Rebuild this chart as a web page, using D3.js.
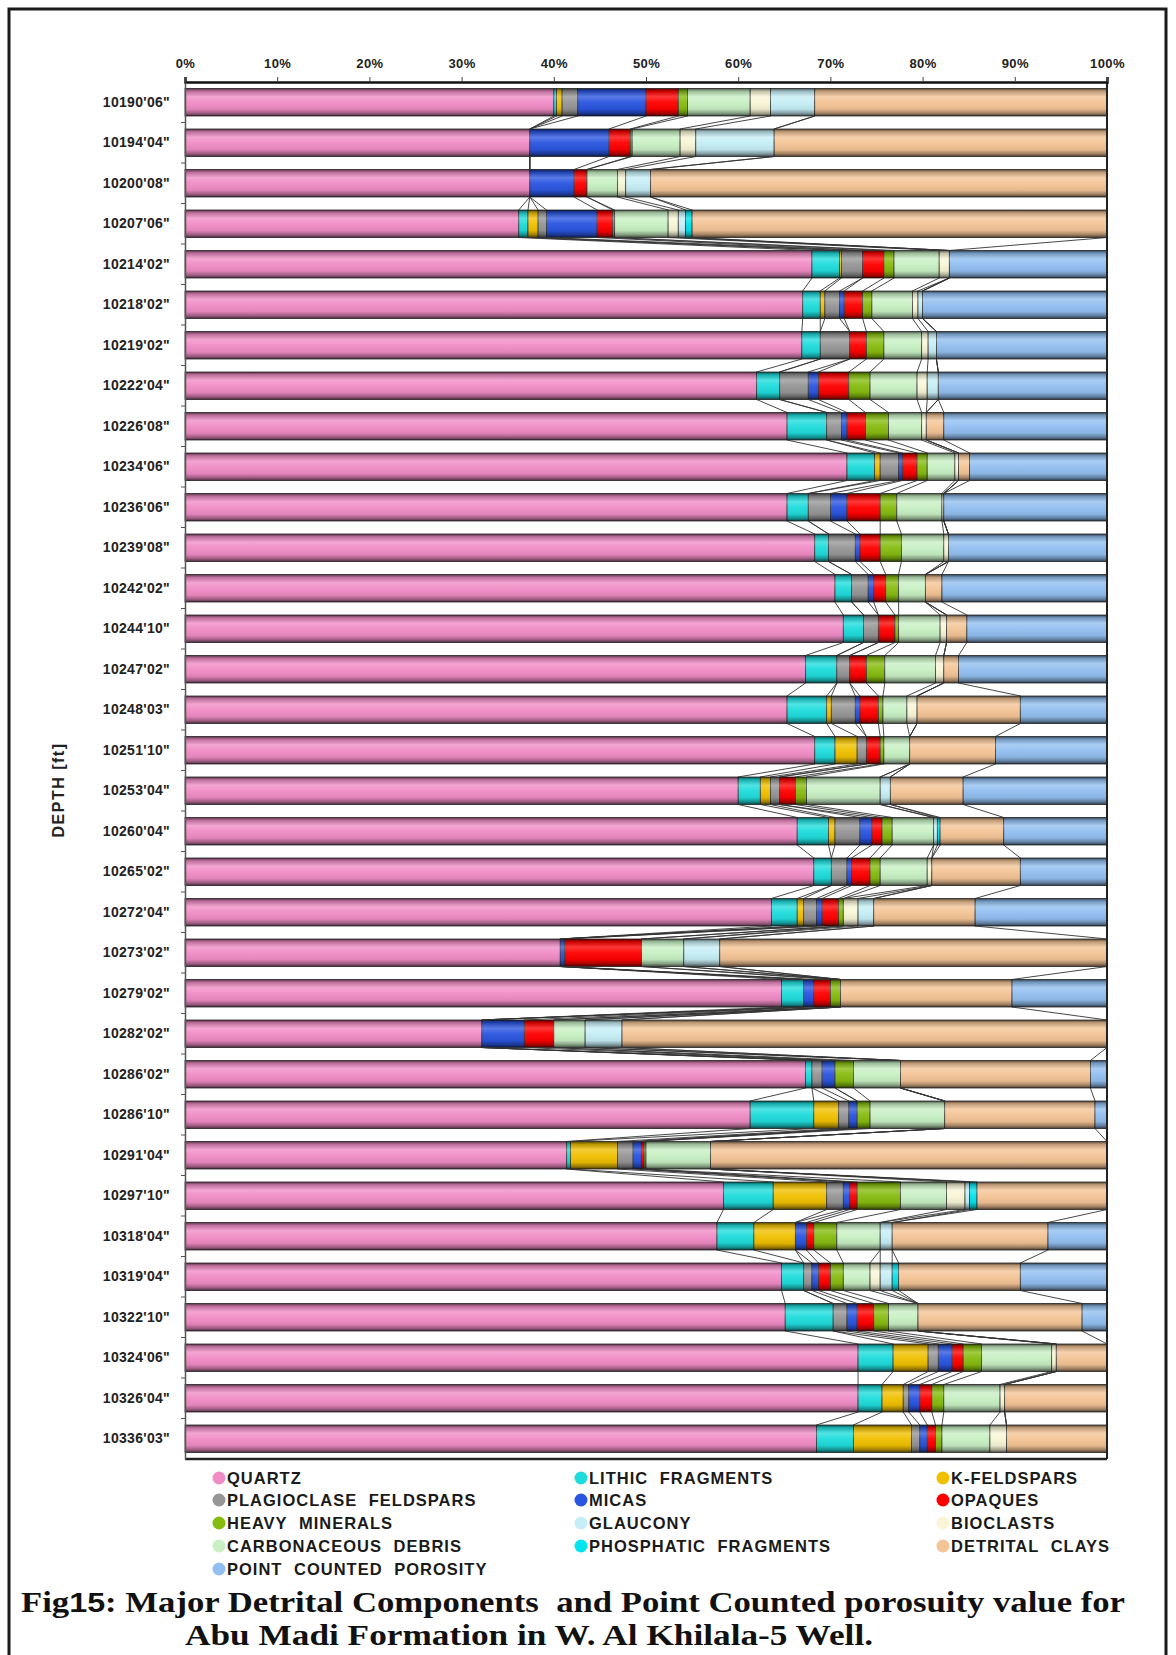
<!DOCTYPE html>
<html>
<head>
<meta charset="utf-8">
<script src="https://cdn.jsdelivr.net/npm/d3@7"></script>
<style>
  body { margin: 0; background: #fff; }
  svg { display: block; }
</style>
</head>
<body>
<div id="chart"></div>
<script>
// depth of each thin section, top to bottom
const depths = ["10190'06\"", "10194'04\"", "10200'08\"", "10207'06\"", "10214'02\"", "10218'02\"",
  "10219'02\"", "10222'04\"", "10226'08\"", "10234'06\"", "10236'06\"", "10239'08\"", "10242'02\"",
  "10244'10\"", "10247'02\"", "10248'03\"", "10251'10\"", "10253'04\"", "10260'04\"", "10265'02\"",
  "10272'04\"", "10273'02\"", "10279'02\"", "10282'02\"", "10286'02\"", "10286'10\"", "10291'04\"",
  "10297'10\"", "10318'04\"", "10319'04\"", "10322'10\"", "10324'06\"", "10326'04\"", "10336'03\""];

// percentages per component (same order as depths)
const quartz      = [40, 37.4, 37.4, 36.2, 68, 67, 66.9, 62, 65.3, 71.8, 65.3, 68.3, 70.5, 71.4, 67.3, 65.3, 68.3, 60, 66.4, 68.2, 63.6, 40.7, 64.7, 32.2, 67.3, 61.3, 41.4, 58.4, 57.7, 64.7, 65.1, 73, 73, 68.5];
const lithic      = [0.3, 0, 0, 1.0, 3, 1.9, 2, 2.5, 4.3, 3, 2.3, 1.5, 1.8, 2.2, 3.4, 4.3, 2.2, 2.4, 3.4, 1.9, 2.8, 0, 2.4, 0, 0.7, 6.9, 0.4, 5.4, 4, 2.4, 5.2, 3.8, 2.6, 4];
const kfeldspar   = [0.6, 0, 0, 1.1, 0.2, 0.5, 0, 0, 0, 0.6, 0, 0, 0, 0, 0, 0.5, 2.4, 1.1, 0.7, 0, 0.7, 0, 0, 0, 0, 2.7, 5.1, 5.8, 4.5, 0, 0, 3.8, 2.3, 6.3];
const plagioclase = [1.7, 0, 0, 0.9, 2.3, 1.6, 3.2, 3.1, 1.6, 2, 2.4, 2.9, 1.8, 1.6, 1.4, 2.6, 1, 1, 2.7, 1.7, 1.4, 0, 0, 0, 1.1, 1.1, 1.7, 1.8, 0, 0.9, 1.5, 1.1, 0.6, 0.9];
const micas       = [7.4, 8.6, 4.8, 5.5, 0, 0.5, 0, 1.1, 0.6, 0.4, 1.8, 0.5, 0.6, 0, 0, 0.5, 0, 0, 1.3, 0.5, 0.6, 0.5, 1.1, 4.6, 1.4, 0.9, 0.9, 0.7, 1.2, 0.7, 1.1, 1.5, 1.2, 0.8];
const opaques     = [3.5, 2.3, 1.4, 1.7, 2.3, 2, 1.8, 3.3, 2, 1.6, 3.6, 2.2, 1.3, 1.8, 1.8, 2, 1.5, 1.7, 1.1, 2, 1.8, 8.3, 1.8, 3.2, 0, 0, 0.3, 0.8, 0.8, 1.3, 1.8, 1.2, 1.3, 0.9];
const heavy       = [1.0, 0.2, 0, 0.2, 1.1, 1, 1.9, 2.3, 2.5, 1.1, 1.8, 2.3, 1.4, 0.4, 2, 0.5, 0.4, 1.2, 1.1, 1.1, 0.5, 0, 1.1, 0, 2, 1.4, 0.2, 4.7, 2.5, 1.4, 1.6, 2, 1.3, 0.7];
const carbonaceous= [6.8, 5.2, 3.3, 5.8, 4.9, 4.4, 4.1, 5.1, 3.6, 3, 4.9, 4.6, 2.9, 4.5, 5.5, 2.6, 2.8, 8, 4.5, 5.1, 0, 4.6, 0, 3.4, 5.1, 8.1, 7.0, 5, 4.7, 2.9, 3.2, 7.6, 6.1, 5.2];
const bioclasts   = [2.2, 1.7, 0.9, 1.1, 1.1, 0.6, 0.7, 1.1, 0.5, 0.4, 0.2, 0.5, 0, 0.7, 0.9, 1.1, 0, 0, 0, 0.5, 1.6, 0, 0, 0, 0, 0, 0, 2, 0, 1.1, 0, 0.5, 0.5, 1.8];
const glaucony    = [4.8, 8.5, 2.7, 0.8, 0, 0.5, 0.9, 1.2, 0, 0, 0, 0, 0, 0, 0, 0, 0, 1.1, 0.4, 0, 1.7, 3.9, 0, 4, 0, 0, 0, 0.5, 1.3, 1.3, 0, 0, 0, 0];
const phosphatic  = [0, 0, 0, 0.7, 0, 0, 0, 0, 0, 0, 0, 0, 0, 0, 0, 0, 0, 0, 0.3, 0, 0, 0, 0, 0, 0, 0, 0, 0.8, 0, 0.7, 0, 0, 0, 0];
const clays       = [31.7, 36.1, 49.5, 45, 0, 0, 0, 0, 1.9, 1.2, 0, 0, 1.8, 2.2, 1.6, 11.2, 9.3, 7.9, 6.9, 9.6, 11, 42, 18.6, 52.6, 20.6, 16.3, 43, 14.1, 16.9, 13.2, 17.8, 5.5, 11.1, 10.9];
const porosity    = [0, 0, 0, 0, 17.1, 20, 18.5, 18.3, 17.7, 14.9, 17.7, 17.2, 17.9, 15.2, 16.1, 9.4, 12.1, 15.6, 11.2, 9.4, 14.3, 0, 10.3, 0, 1.8, 1.3, 0, 0, 6.4, 9.4, 2.7, 0, 0, 0];

// stacking order of the bars
const seriesNames = ['QUARTZ', 'LITHIC FRAGMENTS', 'K-FELDSPARS', 'PLAGIOCLASE FELDSPARS', 'MICAS', 'OPAQUES',
  'HEAVY MINERALS', 'CARBONACEOUS DEBRIS', 'BIOCLASTS', 'GLAUCONY', 'PHOSPHATIC FRAGMENTS', 'DETRITAL CLAYS',
  'POINT COUNTED POROSITY'];
const seriesValues = [quartz, lithic, kfeldspar, plagioclase, micas, opaques, heavy, carbonaceous, bioclasts,
  glaucony, phosphatic, clays, porosity];
const seriesColors = ['#f08cc6', '#1fdcdc', '#f0c000', '#969696', '#2a55e0', '#ff0000', '#86bc10', '#c8f0c4',
  '#f8f6d6', '#c6eef6', '#00e4ee', '#f4c496', '#92bff0'];

// legend as laid out in the figure (3 columns, row by row)
const legendOrder = ['QUARTZ', 'LITHIC FRAGMENTS', 'K-FELDSPARS', 'PLAGIOCLASE FELDSPARS', 'MICAS', 'OPAQUES',
  'HEAVY MINERALS', 'GLAUCONY', 'BIOCLASTS', 'CARBONACEOUS DEBRIS', 'PHOSPHATIC FRAGMENTS', 'DETRITAL CLAYS',
  'POINT COUNTED POROSITY'];
const tickValues = [0, 10, 20, 30, 40, 50, 60, 70, 80, 90, 100];

const W = 1176, H = 1655;
const sans = 'Liberation Sans, Arial, sans-serif';
const svg = d3.select('#chart').append('svg').attr('width', W).attr('height', H);

// frame
svg.append('rect').attr('x', 9).attr('y', 9).attr('width', 1157).attr('height', 1700)
  .attr('fill', 'none').attr('stroke', '#1a1a1a').attr('stroke-width', 3);

const x = d3.scaleLinear().domain([0, 100]).range([185, 1107]);
const y = d3.scaleBand().domain(depths).range([82, 1459]).paddingInner(0.32).paddingOuter(0.16);
const bh = y.bandwidth();
const color = d3.scaleOrdinal().domain(seriesNames).range(seriesColors);

const table = depths.map((d, i) => {
  const row = {depth: d};
  seriesNames.forEach((k, j) => row[k] = seriesValues[j][i]);
  return row;
});
const stacked = d3.stack().keys(seriesNames)(table);

// cylinder shading
const defs = svg.append('defs');
const grad = defs.append('linearGradient').attr('id', 'shade')
  .attr('x1', 0).attr('y1', 0).attr('x2', 0).attr('y2', 1);
[[0, '#000', 0.65], [0.1, '#000', 0.22], [0.3, '#fff', 0.22], [0.5, '#fff', 0.05],
 [0.75, '#000', 0.06], [0.9, '#000', 0.35], [1, '#000', 0.7]].forEach(s => {
  grad.append('stop').attr('offset', s[0]).attr('stop-color', s[1]).attr('stop-opacity', s[2]);
});

// bars
const layers = svg.append('g').selectAll('g').data(stacked).join('g')
  .attr('fill', d => color(d.key));
layers.selectAll('rect').data(d => d).join('rect')
  .attr('x', d => x(d[0]))
  .attr('y', d => y(d.data.depth))
  .attr('width', d => Math.max(0, x(d[1]) - x(d[0])))
  .attr('height', bh)
  .attr('stroke', '#3a3a3a').attr('stroke-width', 0.8);

svg.append('g').selectAll('rect').data(depths).join('rect')
  .attr('x', x(0)).attr('y', d => y(d))
  .attr('width', x(100) - x(0)).attr('height', bh)
  .attr('fill', 'url(#shade)');

// series lines between neighbouring bars
const links = [];
stacked.forEach(s => {
  for (let i = 0; i < s.length - 1; i++) {
    links.push({x1: x(s[i][1]), y1: y(depths[i]) + bh, x2: x(s[i + 1][1]), y2: y(depths[i + 1])});
  }
});
svg.append('g').selectAll('line').data(links).join('line')
  .attr('x1', d => d.x1).attr('y1', d => d.y1).attr('x2', d => d.x2).attr('y2', d => d.y2)
  .attr('stroke', '#333').attr('stroke-width', 0.9);

// plot border (right + bottom)
svg.append('line').attr('x1', x(100)).attr('x2', x(100)).attr('y1', 82).attr('y2', 1459)
  .attr('stroke', '#222').attr('stroke-width', 2);
svg.append('line').attr('x1', x(0)).attr('x2', x(100)).attr('y1', 1459).attr('y2', 1459)
  .attr('stroke', '#222').attr('stroke-width', 2.5);

// top axis
const xAxis = svg.append('g').attr('transform', 'translate(0,82)')
  .call(d3.axisTop(x).tickValues(tickValues).tickFormat(d => d + '%').tickSize(5).tickPadding(9));
xAxis.select('.domain').attr('stroke', '#111').attr('stroke-width', 2.5);
xAxis.selectAll('.tick line').attr('stroke', '#444');
xAxis.selectAll('text').attr('font-family', sans).attr('font-size', 13).attr('font-weight', 'bold')
  .attr('letter-spacing', 0.4).attr('fill', '#222');

// left axis
const yAxis = svg.append('g').attr('transform', `translate(${x(0)},0)`)
  .call(d3.axisLeft(y).tickSize(0).tickPadding(15));
yAxis.select('.domain').attr('stroke', '#555').attr('stroke-width', 1.5);
yAxis.selectAll('text').attr('font-family', sans).attr('font-size', 14).attr('font-weight', 'bold')
  .attr('letter-spacing', 0.3).attr('fill', '#222');
const gap = y.step() * y.paddingInner() / 2;
svg.append('g').selectAll('line').data(depths.slice(1)).join('line')
  .attr('x1', x(0) - 4).attr('x2', x(0))
  .attr('y1', d => y(d) - gap).attr('y2', d => y(d) - gap)
  .attr('stroke', '#555').attr('stroke-width', 1);

svg.append('text').attr('transform', 'translate(64,790) rotate(-90)')
  .attr('text-anchor', 'middle').attr('font-family', sans).attr('font-size', 16)
  .attr('font-weight', 'bold').attr('letter-spacing', 1.5).attr('fill', '#222')
  .text('DEPTH [ft]');

// legend
const colX = [219, 581, 943];
const rowY = [1478, 1500, 1523, 1546, 1569];
const legend = svg.append('g').selectAll('g').data(legendOrder).join('g')
  .attr('transform', (d, i) => `translate(${colX[i % 3]},${rowY[Math.floor(i / 3)]})`);
legend.append('circle').attr('r', 6.5).attr('fill', d => color(d));
legend.append('text').attr('x', 8).attr('dy', '0.36em')
  .attr('font-family', sans).attr('font-size', 16.5).attr('font-weight', 'bold')
  .attr('letter-spacing', 1.0).attr('word-spacing', 6).attr('fill', '#1a1a1a')
  .text(d => d);

// caption
const serif = 'Liberation Serif, Times New Roman, serif';
const cap1 = svg.append('text').attr('x', 21).attr('y', 1612)
  .attr('font-family', serif).attr('font-size', 29).attr('font-weight', 'bold').attr('fill', '#111')
  .attr('textLength', 1104).attr('lengthAdjust', 'spacingAndGlyphs').style('white-space', 'pre');
cap1.append('tspan').text('Fig');
cap1.append('tspan').attr('font-family', sans).attr('font-size', 27).text('15');
cap1.append('tspan').text(': Major Detrital Components  and Point Counted porosuity value for');
svg.append('text').attr('x', 185).attr('y', 1645)
  .attr('font-family', serif).attr('font-size', 29).attr('font-weight', 'bold').attr('fill', '#111')
  .attr('textLength', 688).attr('lengthAdjust', 'spacingAndGlyphs')
  .text('Abu Madi Formation in W. Al Khilala-5 Well.');
</script>
</body>
</html>
